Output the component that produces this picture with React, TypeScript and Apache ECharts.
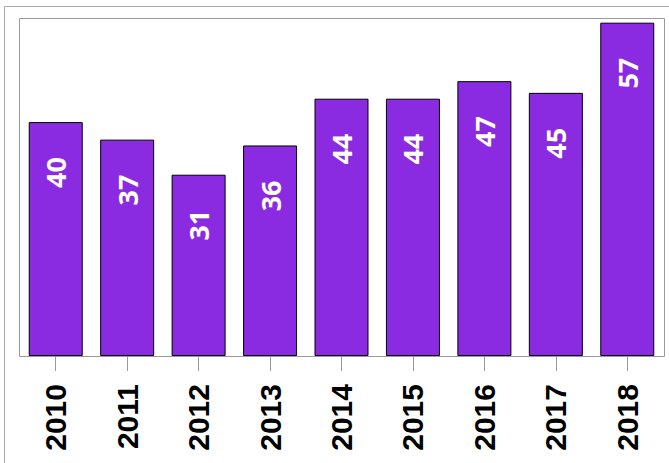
import React, { useEffect, useRef } from "react";
import * as echarts from "echarts";

const years = ["2010", "2011", "2012", "2013", "2014", "2015", "2016", "2017", "2018"];
const values = [40, 37, 31, 36, 44, 44, 47, 45, 57];

export default function App() {
  const ref = useRef<HTMLDivElement>(null);
  useEffect(() => {
    if (!ref.current) return;
    const chart = echarts.init(ref.current, null, { renderer: "svg" });
    chart.setOption({
      animation: false,
      backgroundColor: "#ffffff",
      grid: { left: 20, right: 6, top: 18, bottom: 107, show: false },
      xAxis: {
        type: "category",
        data: years,
        axisLine: { show: false },
        axisTick: { show: true, alignWithLabel: true, length: 15, lineStyle: { color: "#999999", width: 1 } },
        axisLabel: {
          rotate: 90,
          margin: 28,
          color: "#000000",
          fontWeight: "bold",
          fontSize: 30,
          fontFamily: "Liberation Sans",
        },
      },
      yAxis: {
        type: "value",
        min: 0,
        max: 57.8,
        show: false,
        splitLine: { show: false },
      },
      series: [
        {
          type: "bar",
          data: values,
          barWidth: 54,
          itemStyle: { color: "#8a2be2", borderColor: "#000000", borderWidth: 1 },
          label: {
            show: true,
            position: "insideTop",
            distance: 35,
            rotate: 90,
            align: "right",
            verticalAlign: "middle",
            color: "#ffffff",
            fontWeight: "bold",
            fontSize: 27,
            fontFamily: "Open Sans",
          },
        },
      ],
      graphic: [
        {
          type: "rect",
          shape: { x: 4.5, y: 6.5, width: 800, height: 800 },
          style: { fill: "none", stroke: "#aaaaaa", lineWidth: 1 },
          silent: true,
        },
        {
          type: "rect",
          shape: { x: 19.5, y: 18.5, width: 645, height: 338 },
          style: { fill: "none", stroke: "#999999", lineWidth: 1 },
          silent: true,
        },
      ],
    });
    return () => chart.dispose();
  }, []);
  return (
    <div
      ref={ref}
      style={{ position: "fixed", left: 0, top: 0, width: 669, height: 463, background: "#fff" }}
    />
  );
}
